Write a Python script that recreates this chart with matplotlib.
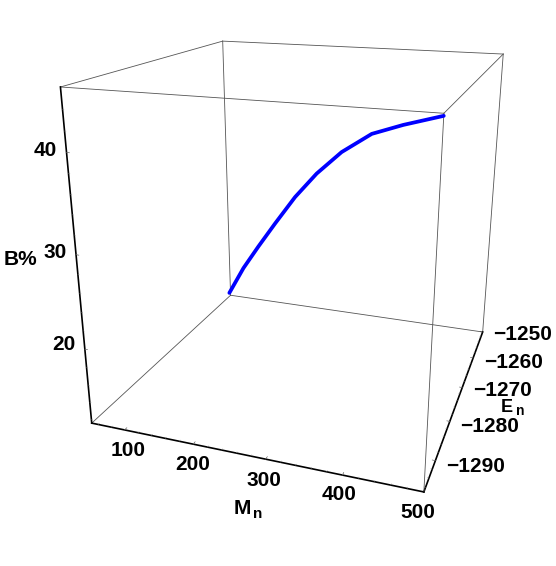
import numpy as np
import matplotlib
matplotlib.use('Agg')
import matplotlib.pyplot as plt

M_RANGE = (50, 500)
E_RANGE = (-1297, -1250)
B_RANGE = (11.6, 46)

M_ticks = [100, 200, 300, 400, 500]
E_ticks = [-1290, -1280, -1270, -1260, -1250]
B_ticks = [20, 30, 40]
M_minor = list(range(60, 500, 20))
E_minor = list(range(-1296, -1250, 2))
B_minor = list(range(12, 46, 2))

Mn = [50, 100, 150, 200, 250, 300, 350, 400, 450, 500]
En = [-1250.5, -1255.5, -1260.9, -1266.4, -1271.4, -1276.9, -1282.3, -1287.0, -1293.0, -1297.0]
Bp = [12.1, 17.65, 22.5, 27.2, 31.85, 35.9, 39.4, 42.2, 44.2, 45.8]

plt.rcParams['font.family'] = ['Liberation Sans', 'DejaVu Sans']

fig = plt.figure(figsize=(5.56, 5.66), dpi=100)
# axes square in pixels, centred where the box sits in the picture
S, CX, CY = 541.148, 299.685, 237.365
ax = fig.add_axes([(CX - S / 2) / 556, 1 - (CY + S / 2) / 566, S / 556, S / 566], projection='3d')
ax.set_xlim(*M_RANGE, view_margin=0)
ax.set_ylim(*E_RANGE, view_margin=0)
ax.set_zlim(*B_RANGE, view_margin=0)
ax.set_box_aspect((1.001, 1.005, 1.0))
ax.view_init(elev=19.274, azim=-70.609, roll=-0.026)
ax.set_proj_type('persp', focal_length=0.298)
ax.set_axis_off()
ax.patch.set_alpha(0)

m0, m1 = M_RANGE
e0, e1 = E_RANGE
b0, b1 = B_RANGE

# box edges
thin = dict(color='#555555', lw=0.6)
for e, b in [(e1, b0), (e0, b1), (e1, b1)]:
    ax.plot([m0, m1], [e, e], [b, b], **thin)
for m, b in [(m0, b0), (m0, b1), (m1, b1)]:
    ax.plot([m, m], [e0, e1], [b, b], **thin)
for m, e in [(m1, e0), (m0, e1), (m1, e1)]:
    ax.plot([m, m], [e, e], [b0, b1], **thin)

# framed axes
thick = dict(color='black', lw=1.2)
ax.plot([m0, m1], [e0, e0], [b0, b0], **thick)
ax.plot([m1, m1], [e0, e1], [b0, b0], **thick)
ax.plot([m0, m0], [e0, e0], [b0, b1], **thick)

major = dict(color='#444444', lw=0.4)
minor = dict(color='#888888', lw=0.3)
for t in M_ticks:
    ax.plot([t, t], [e0, e0 + 0.6], [b0, b0], **major)
for t in M_minor:
    ax.plot([t, t], [e0, e0 + 0.3], [b0, b0], **minor)
for t in E_ticks:
    ax.plot([m1, m1 - 4], [t, t], [b0, b0], **major)
for t in E_minor:
    ax.plot([m1, m1 - 2], [t, t], [b0, b0], **minor)
for t in B_ticks:
    ax.plot([m0, m0 + 4], [e0, e0], [t, t], **major)
for t in B_minor:
    ax.plot([m0, m0 + 2], [e0, e0], [t, t], **minor)

ax.plot(Mn, En, Bp, color='#0000ff', lw=2.7, solid_capstyle='round', solid_joinstyle='round')

def label(x, y, s, size=15):
    fig.text(x / 556, 1 - y / 566, s, ha='center', va='center', fontsize=size, fontweight='bold')

for s, x, y in zip(M_ticks, [128, 193, 264, 339, 418], [450, 464, 480, 494, 512]):
    label(x, y, str(s))
for s, x, y in zip(E_ticks, [476, 490, 502, 514, 523], [466, 426, 391, 362, 335]):
    label(x, y, '\u2212' + str(-s))
for s, x, y in zip(B_ticks, [64, 55, 45], [345, 252, 151]):
    label(x, y, str(s))
label(20, 260, 'B%')
label(242, 508, 'M')
label(258, 514, 'n', 11)
label(507, 407.5, 'E', 13)
label(520, 411, 'n', 10)

fig.savefig('out.png', dpi=100)
